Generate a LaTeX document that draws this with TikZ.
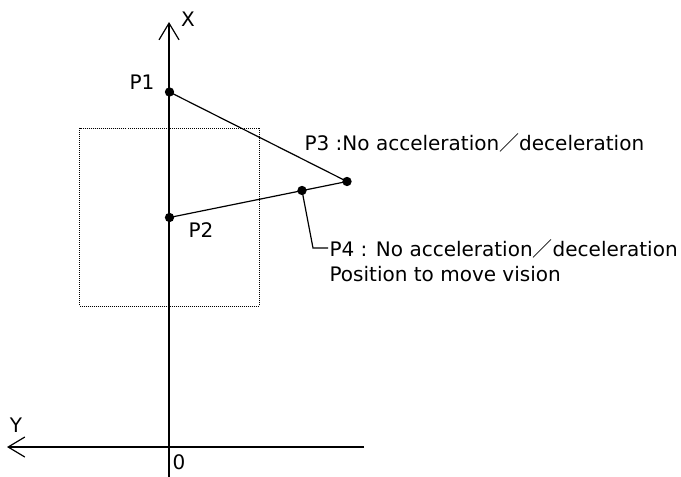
\documentclass[tikz,border=0pt]{standalone}
\usepackage{fontspec}
\setmainfont{DejaVu Sans}
\newfontfamily\cjk{Noto Sans CJK JP}
\usetikzlibrary{arrows.meta,positioning}

\tikzset{every picture/.style={line width=0.9pt}}
\tikzset{
  lbl/.style={inner sep=0.75pt,font=\fontsize{15}{18}\selectfont},
  pt/.style={circle,fill=black,inner sep=0pt,minimum size=7pt},
  axis/.style={-{Straight Barb[length=12.5pt,width=15pt,line width=0.9pt]}},
  area/.style={line width=0.6pt,dash pattern=on 0.75pt off 0.75pt}
}

\begin{document}
\begin{tikzpicture}[x=0.75pt,y=0.75pt,yscale=-1,xscale=1]
    \useasboundingbox (0,0) rectangle (681,477);

    %Axes
    \coordinate (org) at (169,447);
    \coordinate (xtop) at (169,22);
    \coordinate (xbot) at (169,477);
    \coordinate (yleft) at (7,447);
    \coordinate (yright) at (364,447);
    \draw [axis] (xbot) -- (xtop);
    \draw [axis] (yright) -- (yleft);

    %Shape: Rectangle (dotted)
    \draw [area] (79.5,128) rectangle (259,306);

    %Points
    \node [pt] (p1) at (169.5,92) {};
    \node [pt] (p2) at (169.5,217.5) {};
    \node [pt] (p3) at (347,181.5) {};
    \node [pt] (p4) at (302,190.5) {};

    %Path
    \draw (p1.center) -- (p3.center);
    \draw (p3.center) -- (p2.center);

    % Text Node
    \node [lbl] (xlab) at (188,19) {X};
    % Text Node
    \node [lbl] (ylab) at (16,425) {Y};
    % Text Node
    \node [lbl] (olab) at (179,462) {0};
    % Text Node
    \node [lbl] (p1lab) at (142,82) {P1};
    % Text Node
    \node [lbl] (p2lab) at (201,230) {P2};
    % Text Node
    \node [lbl,anchor=base west] (p3lab) at (303,151) {P3 :No acceleration{\cjk ／}deceleration};
    % Text Node
    \node [lbl,anchor=base west] (p4lab) at (328,256) {P4 : No acceleration{\cjk ／}deceleration};
    % Text Node
    \node [lbl,anchor=base west] (p4sub) at ([yshift=18.75pt]p4lab.base west) {Position to move vision};

    %Leader line
    \coordinate (bend) at (313,248);
    \draw (p4.center) -- (bend) -- (bend -| p4lab.west);

\end{tikzpicture}
\end{document}
